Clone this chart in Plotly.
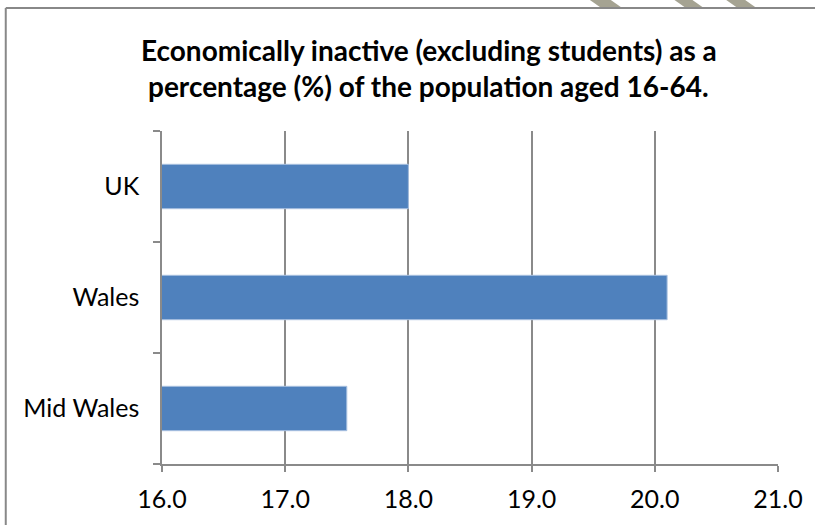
import plotly.graph_objects as go

regions = ["Mid Wales", "Wales", "UK"]
values = [17.5, 20.1, 18.0]
x_ticks = [16.0, 17.0, 18.0, 19.0, 20.0, 21.0]
title_lines = ["Economically inactive (excluding students) as a",
               "percentage (%) of the population aged 16-64."]

W, H = 815, 525
L, R, T, B = 162, 34, 131, 61
pw, ph = W - L - R, H - T - B

def px(x):
    return (x - L) / pw

def py(y):
    return (H - B - y) / ph

FONT = "Lato"
GRID = "#8a8a8a"

fig = go.Figure(go.Bar(
    y=regions, x=values, orientation="h",
    marker=dict(color="#4F81BD", line=dict(color="#a9c1e0", width=1)),
    width=0.4,
))

shapes = []
# chart border (left and top)
shapes.append(dict(type="line", xref="paper", yref="paper",
                   x0=px(5), x1=px(5), y0=py(8), y1=py(530),
                   line=dict(color="#888888", width=2)))
shapes.append(dict(type="line", xref="paper", yref="paper",
                   x0=px(5), x1=px(820), y0=py(8), y1=py(8),
                   line=dict(color="#888888", width=2)))
# decorative stripes at top right
for (a, b) in [(592, 613), (677, 695), (729, 748)]:
    path = "M {} {} L {} {} L {} {} L {} {} Z".format(
        px(a), py(0), px(b), py(0), px(b + 10), py(7), px(a + 10), py(7))
    shapes.append(dict(type="path", xref="paper", yref="paper", path=path,
                       fillcolor="#a5a392", line=dict(width=0)))

annotations = []
for i, line in enumerate(title_lines):
    annotations.append(dict(text="<b>" + line + "</b>", xref="paper", yref="paper",
                            x=px(430), y=py(50 + 36 * i), xanchor="center", yanchor="middle",
                            showarrow=False, font=dict(family=FONT, size=28, color="black")))

fig.update_layout(
    width=W, height=H,
    margin=dict(l=L, r=R, t=T, b=B),
    paper_bgcolor="white", plot_bgcolor="white",
    showlegend=False,
    shapes=shapes,
    annotations=annotations,
    font=dict(family=FONT, size=25, color="black"),
    xaxis=dict(range=[16, 21], tickvals=x_ticks, tickformat=".1f",
               showgrid=True, gridcolor=GRID, gridwidth=1.5,
               showline=True, linecolor=GRID, linewidth=1.5,
               ticks="outside", ticklen=6, tickcolor=GRID, tickwidth=1.5,
               ticklabelstandoff=6, zeroline=False, fixedrange=True),
    yaxis=dict(categoryorder="array", categoryarray=regions,
               showgrid=False, showline=True, linecolor=GRID, linewidth=1.5,
               ticks="outside", ticklen=7, tickcolor=GRID, tickwidth=1.5,
               tickson="boundaries", ticklabelstandoff=16, fixedrange=True),
)

fig.write_html("out.html")
